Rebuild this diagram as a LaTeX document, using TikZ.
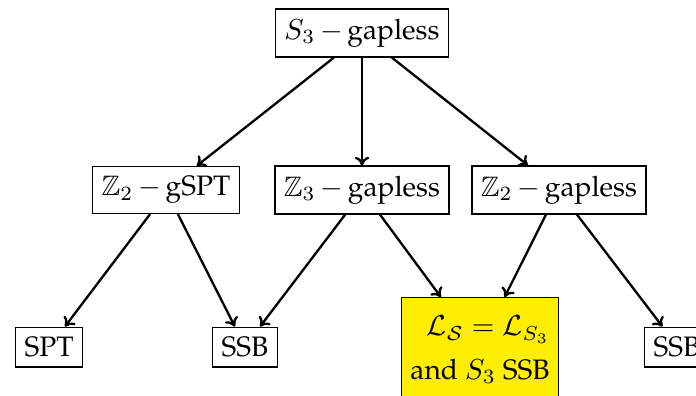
\documentclass[tikz,border=0pt]{standalone}
\usepackage[T1]{fontenc}
\usepackage{palatino}
\usepackage{amsmath,amssymb}
\usetikzlibrary{arrows.meta}
\definecolor{hiyellow}{RGB}{255,238,0}
\medmuskip=3mu plus 2mu minus 3mu
\tikzset{
  box/.style={draw, inner sep=3.4pt, inner xsep=3.1pt, font=\fontsize{9.7}{12}\selectfont},
  link/.style={thick, -{To[length=3pt,width=5pt]}}
}
\begin{document}
\begin{tikzpicture}[x=0.345pt, y=-0.345pt]
\useasboundingbox (0,0) rectangle (696,395);
\begin{scope}
\clip (0,0) rectangle (696,395);
% top level
\node[box] (top) at (362,33) {$S_3-\text{gapless}$};
% middle level
\node[box] (gspt) at (166,190) {$\mathbb{Z}_2-\text{gSPT}$};
\node[box] (zthree) at (362,190) {$\mathbb{Z}_3-\text{gapless}$};
\node[box] (ztwo) at (559,190) {$\mathbb{Z}_2-\text{gapless}$};
% bottom level
\node[box] (spt) at (49,347) {SPT};
\node[box] (ssbl) at (245,347) {SSB};
\node[box, fill=hiyellow, anchor=north, align=right, minimum height=36pt,
      inner xsep=3.2pt, font=\fontsize{9.7}{15}\selectfont] (lag) at (480,297)
  {$\mathcal{L}_{\mathcal{S}} = \mathcal{L}_{S_3}$\\ and $S_3$ SSB};
\node[box, anchor=west] (ssbr) at (644,347) {SSB};
% connectors
\draw[link] ([xshift=-9.7pt]top.south) -- ([xshift=10.6pt]gspt.north);
\draw[link] (top.south) -- (zthree.north);
\draw[link] ([xshift=10.3pt]top.south) -- ([xshift=-10.7pt]ztwo.north);
\draw[link] ([xshift=-5.5pt]gspt.south) -- ([xshift=5.5pt]spt.north);
\draw[link] ([xshift=4.1pt]gspt.south) -- ([xshift=-3.5pt]ssbl.north);
\draw[link] ([xshift=-5.8pt]zthree.south) -- ([xshift=5.2pt]ssbl.north);
\draw[link] ([xshift=6.2pt]zthree.south) -- ([xshift=-13.5pt]lag.north);
\draw[link] ([xshift=-4.5pt]ztwo.south) -- ([xshift=8.5pt]lag.north);
\draw[link] ([xshift=6.2pt]ztwo.south) -- ([xshift=-5pt]ssbr.north);
\end{scope}
\end{tikzpicture}
\end{document}
